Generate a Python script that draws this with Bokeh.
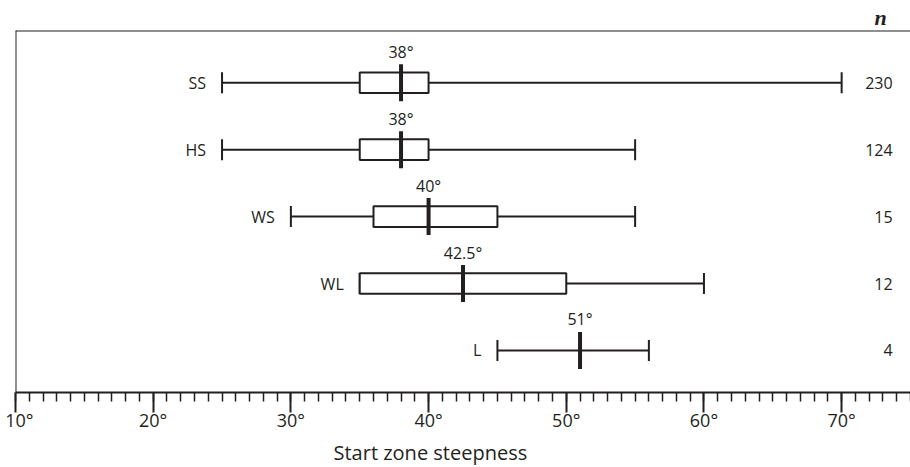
import numpy as np
from bokeh.plotting import figure
from bokeh.models import (Range1d, FixedTicker, LinearAxis, Span, Title,
                          ColumnDataSource, CustomJSTickFormatter)
from bokeh.core.properties import value
from bokeh.embed import file_html
from bokeh.resources import INLINE

# ---- data ----
groups = ["SS", "HS", "WS", "WL", "L"]
n_counts = [230, 124, 15, 12, 4]
lower = [25, 25, 30, 35, 45]
q1 = [35, 35, 36, 35, np.nan]
median = [38, 38, 40, 42.5, 51]
q3 = [40, 40, 45, 50, np.nan]
upper = [70, 55, 55, 60, 56]
median_labels = ["38°", "38°", "40°", "42.5°", "51°"]
major_ticks = [10, 20, 30, 40, 50, 60, 70]
tick_labels = ["10°", "20°", "30°", "40°", "50°", "60°", "70°"]
mid_ticks = [15, 25, 35, 45, 55, 65, 75]
minor_ticks = list(range(10, 76))
x_title = "Start zone steepness"
n_title = "n"

# ---- style / layout ----
INK = "#231f20"
FONT = "Open Sans"
W, H = 910, 467
BORDER_L, BORDER_T, BORDER_B = 15, 30, 75
FRAME_H = H - BORDER_T - BORDER_B
Y0, Y1 = 0.372, 5.78
PX = FRAME_H / (Y1 - Y0)          # pixels per row unit
N_COL_X = 73.7

ys = [len(groups) - i for i in range(len(groups))]

src = ColumnDataSource(dict(
    group=groups, n=[str(v) for v in n_counts], lower=lower, q1=q1,
    median=median, q3=q3, upper=upper, mlab=median_labels, y=ys))

p = figure(width=W, height=H, x_range=Range1d(10, 75), y_range=Range1d(Y0, Y1),
           output_backend="svg", toolbar_location=None, y_axis_location=None,
           min_border_left=BORDER_L, min_border_right=0,
           min_border_top=BORDER_T, min_border_bottom=BORDER_B,
           outline_line_color=None, background_fill_color="white",
           border_fill_color="white")
p.grid.visible = False

# main axis: 10-degree majors, 1-degree minors
ax = p.xaxis[0]
ax.ticker = FixedTicker(ticks=major_ticks, minor_ticks=minor_ticks)
overrides = {t: l for t, l in zip(major_ticks, tick_labels)}
overrides[major_ticks[0]] = "\u00a0" + tick_labels[0]
ax.major_label_overrides = overrides
ax.major_tick_in = 0
ax.major_tick_out = 20
ax.minor_tick_in = 0
ax.minor_tick_out = 9
ax.axis_line_width = 2
ax.axis_line_color = INK
ax.major_tick_line_width = 2
ax.major_tick_line_color = INK
ax.minor_tick_line_width = 1.5
ax.minor_tick_line_color = INK
ax.major_label_text_font = FONT
ax.major_label_text_font_size = "18px"
ax.major_label_text_color = INK
ax.major_label_standoff = -5

# 5-degree mid ticks drawn at the same axis line
ax5 = LinearAxis(ticker=FixedTicker(ticks=mid_ticks, minor_ticks=[]),
                 formatter=CustomJSTickFormatter(code="return ''"),
                 fixed_location=Y0, axis_line_color=None,
                 major_tick_in=13, major_tick_out=0,
                 minor_tick_in=0, minor_tick_out=0,
                 major_tick_line_width=2, major_tick_line_color=INK,
                 major_label_standoff=0)
p.add_layout(ax5, "above")

# "n" header and x-axis title
p.add_layout(Title(text=n_title, align="left", offset=859, standoff=2,
                   vertical_align="bottom", text_font="Liberation Serif",
                   text_font_style="bold italic", text_font_size="22px",
                   text_color=INK), "above")
p.add_layout(Title(text=x_title, align="left", offset=318, standoff=4,
                   text_font=FONT, text_font_style="normal",
                   text_font_size="20px", text_color=INK), "below")

# frame lines (left and top)
p.add_layout(Span(location=10, dimension="height", line_color=INK, line_width=2))
p.add_layout(Span(location=Y1, dimension="width", line_color=INK, line_width=2))

# whiskers and caps
p.segment(x0="lower", y0="y", x1="upper", y1="y", source=src, line_color=INK, line_width=2)
p.scatter(x="lower", y="y", marker="dash", size=21, angle=np.pi / 2,
          line_color=INK, line_width=2, source=src)
p.scatter(x="upper", y="y", marker="dash", size=21, angle=np.pi / 2,
          line_color=INK, line_width=2, source=src)
# boxes
p.hbar(y="y", left="q1", right="q3", height=20.6 / PX, fill_color="white",
       line_color=INK, line_width=2, source=src)
# medians
p.scatter(x="median", y="y", marker="dash", size=37, angle=np.pi / 2,
          line_color=INK, line_width=4, source=src)

# texts
p.text(x="lower", y="y", text="group", x_offset=-16, text_align="right",
       text_baseline="middle", text_font=value(FONT), text_font_size="16px",
       text_color=INK, source=src)
p.text(x="median", y="y", text="mlab", y_offset=-31, text_align="center",
       text_baseline="alphabetic", text_font=value(FONT), text_font_size="16px",
       text_color=INK, source=src)
p.text(x=N_COL_X, y="y", text="n", text_align="right", text_baseline="middle",
       text_font=value(FONT), text_font_size="16px", text_color=INK, source=src)

open("out.html", "w").write(file_html(p, INLINE))
